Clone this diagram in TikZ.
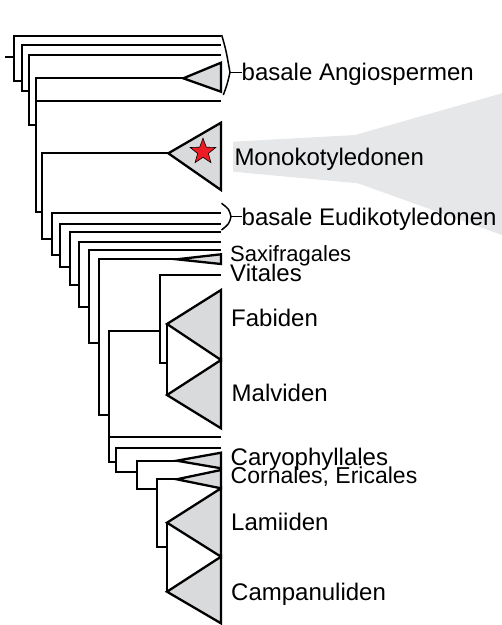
\documentclass[tikz,border=0pt]{standalone}
\usepackage{fontspec}
\setmainfont{Liberation Sans}
\definecolor{CladeGray}{RGB}{217, 218, 219}
\definecolor{FocusGray}{RGB}{230, 231, 232}
\definecolor{StarRed}{RGB}{237, 28, 36}
\usetikzlibrary{shapes.geometric}
\tikzset{
  branch/.style={line width=2.3pt, line join=miter},
  clade/.style={line width=2.3pt, line join=miter, draw=black, fill=CladeGray},
  brace/.style={line width=1.5pt, line join=round},
  taxon/.style={anchor=base west, inner sep=0pt, text=black,
                font=\fontsize{#1}{28}\selectfont},
  taxon/.default=24,
  focus/.style={fill=FocusGray, draw=none},
}

\begin{document}
\begin{tikzpicture}[x=1pt, y=-1pt]
      \useasboundingbox (0,0) rectangle (502,625);

      % highlight behind the monocots
      \fill[focus] (233,141.7) -- (355,135) -- (502,93.3) -- (502,235)
                   -- (358,183.3) -- (233,171.7) -- cycle;

      % inner nodes
      \coordinate (rt)  at (5,56.7);
      \coordinate (n1)  at (14,56.7);
      \coordinate (n2)  at (22,81);
      \coordinate (n3)  at (29,90.7);
      \coordinate (n4)  at (36,125);
      \coordinate (n5)  at (42,211.7);
      \coordinate (n6)  at (52,239.3);
      \coordinate (n7)  at (60,255);
      \coordinate (n8)  at (70,266.7);
      \coordinate (n9)  at (79,285);
      \coordinate (n10) at (89,306.7);
      \coordinate (n11) at (99,343.3);
      \coordinate (n12) at (109,415);
      \coordinate (nV)  at (160,331);
      \coordinate (nR)  at (167,363.3);
      \coordinate (n13) at (116,461.7);
      \coordinate (n14) at (137,471.7);
      \coordinate (n15) at (157,489.3);
      \coordinate (nA)  at (167,546.7);

      % single tips
      \coordinate (amb) at (221,35.7);
      \coordinate (nym) at (221,44.7);
      \coordinate (aus) at (221,54.7);
      \coordinate (chl) at (221,101);
      \coordinate (eu1) at (221,213.3);
      \coordinate (eu2) at (221,224);
      \coordinate (eu3) at (221,232.3);
      \coordinate (eu4) at (221,241.7);
      \coordinate (eu5) at (221,250);
      \coordinate (vit) at (221,275);
      \coordinate (eu6) at (221,437.3);
      \coordinate (eu7) at (221,448.3);

      % collapsed clades
      \coordinate (tBas) at (183.3,78.3);
      \coordinate (tMono) at (168.3,153.3);
      \coordinate (tSax) at (176.7,259.3);
      \coordinate (tFab) at (167,324);
      \coordinate (tMal) at (167,395);
      \coordinate (tCar) at (176.7,460.7);
      \coordinate (tCor) at (176.7,479.3);
      \coordinate (tLam) at (167,522.7);
      \coordinate (tCam) at (167,591.7);

      \draw[clade] (tBas)  -- (221,62.7)  -- (221,91.7)  -- cycle;
      \draw[clade] (tMono) -- (221,122.7) -- (221,190)   -- cycle;
      \draw[clade] (tSax)  -- (221,254.3) -- (221,264)   -- cycle;
      \draw[clade] (tFab)  -- (221,290)   -- (221,360)   -- cycle;
      \draw[clade] (tMal)  -- (221,360)   -- (221,428.3) -- cycle;
      \draw[clade] (tCar)  -- (221,452.7) -- (221,468.3) -- cycle;
      \draw[clade] (tCor)  -- (221,470)   -- (221,488.3) -- cycle;
      \draw[clade] (tLam)  -- (221,488.3) -- (221,556.7) -- cycle;
      \draw[clade] (tCam)  -- (221,556.7) -- (221,623.3) -- cycle;

      \node[star, star points=5, star point ratio=2.4, minimum size=27pt,
            inner sep=0pt, fill=StarRed, draw=black, line width=0.6pt]
            (mark) at (203,151.7) {};

      % branches
      \draw[branch] (rt) -- (n1);
      \draw[branch] (n1) |- (amb);
      \draw[branch] (n1) |- (n2);
      \draw[branch] (n2) |- (nym);
      \draw[branch] (n2) |- (n3);
      \draw[branch] (n3) |- (aus);
      \draw[branch] (n3) |- (n4);
      \draw[branch] (n4) |- (tBas);
      \draw[branch] (n4) |- (chl);
      \draw[branch] (n4) |- (n5);
      \draw[branch] (n5) |- (tMono);
      \draw[branch] (n5) |- (n6);
      \draw[branch] (n6) |- (eu1);
      \draw[branch] (n6) |- (n7);
      \draw[branch] (n7) |- (eu2);
      \draw[branch] (n7) |- (n8);
      \draw[branch] (n8) |- (eu3);
      \draw[branch] (n8) |- (n9);
      \draw[branch] (n9) |- (eu4);
      \draw[branch] (n9) |- (n10);
      \draw[branch] (n10) |- (eu5);
      \draw[branch] (n10) |- (n11);
      \draw[branch] (n11) |- (tSax);
      \draw[branch] (n11) |- (n12);
      \draw[branch] (n12) |- (nV);
      \draw[branch] (n12) |- (eu6);
      \draw[branch] (n12) |- (n13);
      \draw[branch] (nV) |- (vit);
      \draw[branch] (nV) |- (nR);
      \draw[branch] (nR) -- (tFab);
      \draw[branch] (nR) -- (tMal);
      \draw[branch] (n13) |- (eu7);
      \draw[branch] (n13) |- (n14);
      \draw[branch] (n14) |- (tCar);
      \draw[branch] (n14) |- (n15);
      \draw[branch] (n15) |- (tCor);
      \draw[branch] (n15) |- (nA);
      \draw[branch] (nA) -- (tLam);
      \draw[branch] (nA) -- (tCam);

      % braces for grouped tips
      \coordinate (bA) at (230,72.5);
      \coordinate (bE) at (231,216.7);
      \draw[brace] (221.7,35) .. controls (226,50) .. (bA)
                   .. controls (227,85) .. (223.3,95);
      \draw[brace] (221.5,203.3) .. controls (229,209) .. (bE)
                   .. controls (229,224) .. (221.5,230);

      % labels
      \node[taxon] (angio) at (241.5,80) {basale Angiospermen};
      \node[taxon] (mono)  at (234.3,165) {Monokotyledonen};
      \node[taxon] (eudi)  at (241.5,225) {basale Eudikotyledonen};
      \node[taxon=22, text depth=0pt] (saxi) at (230,261.7) {Saxifragales};
      \node[taxon] (vitl)  at (230,281.7) {Vitales};
      \node[taxon] (fab)   at (231,326.7) {Fabiden};
      \node[taxon] (mal)   at (231.5,401.7) {Malviden};
      \node[taxon, text depth=0pt] (caryo) at (230.5,465) {Caryophyllales};
      \node[taxon=23] (corn) at (230.5,483.3) {Cornales, Ericales};
      \node[taxon] (lam)   at (231,530.7) {Lamiiden};
      \node[taxon] (camp)  at (231,600) {Campanuliden};

      \draw[brace] (bA) -- (angio.base west |- bA);
      \draw[brace] (bE) -- (eudi.base west |- bE);
    \end{tikzpicture}
\end{document}
